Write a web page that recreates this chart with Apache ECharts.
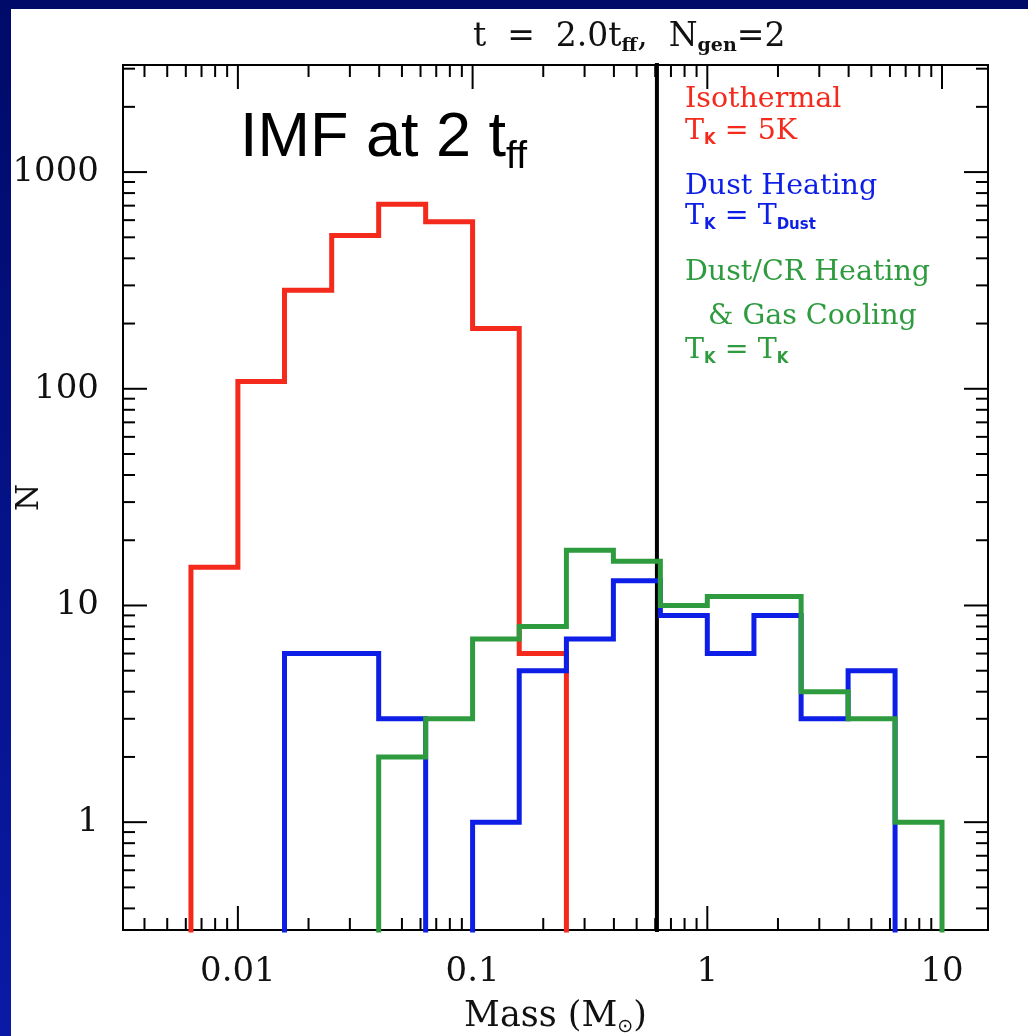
<!DOCTYPE html>
<html><head><meta charset="utf-8">
<script src="https://cdn.jsdelivr.net/npm/echarts@6/dist/echarts.min.js"></script>
<style>
html,body{margin:0;padding:0;width:1028px;height:1036px;overflow:hidden;background:linear-gradient(to bottom,#000a69,#0a1aa6);}
#panel{position:absolute;left:11px;top:9px;right:0;bottom:0;background:#fff;}
#chart{position:absolute;left:0;top:0;width:1028px;height:1036px;}
</style></head><body><div id="panel"></div><div id="chart"></div>
<script>
// ---- data ----
const binEdges = [0.00631, 0.01, 0.0158, 0.0251, 0.0398, 0.0631, 0.1, 0.158, 0.251, 0.398, 0.631, 1, 1.58, 2.51, 3.98, 6.31, 10];
const isothermal    = [15, 108, 285, 510, 710, 590, 190, 6, 0, 0, 0, 0, 0, 0, 0, 0];
const dustHeating   = [0, 0, 6, 6, 3, 0, 1, 5, 7, 13, 9, 6, 9, 3, 5, 0];
const dustCRHeating = [0, 0, 0, 0, 2, 3, 7, 8, 18, 16, 10, 11, 11, 4, 3, 1];
const markerMass = 0.61;
const xTickValues = [0.01, 0.1, 1, 10];
const xTickLabels = ['0.01', '0.1', '1', '10'];
const yTickValues = [1, 10, 100, 1000];
const yTickLabels = ['1', '10', '100', '1000'];
const xRange = [0.00324, 15.7];
const yRange = [0.318, 3120];
const FLOOR = 0.01;

const RED = '#f42a1c', BLUE = '#0d1fe6', GREEN = '#2f9b3f';

function stepPoints(counts) {
  const first = counts.findIndex(v => v > 0);
  let last = counts.length - 1;
  while (last >= 0 && counts[last] <= 0) last--;
  const pts = [[binEdges[first], FLOOR]];
  for (let i = first; i <= last; i++) {
    const v = counts[i] > 0 ? counts[i] : FLOOR;
    pts.push([binEdges[i], v], [binEdges[i + 1], v]);
  }
  pts.push([binEdges[last + 1], FLOOR]);
  return pts;
}

function labelFor(values, labels) {
  return function (v) {
    for (let i = 0; i < values.length; i++) {
      if (Math.abs(Math.log10(v) - Math.log10(values[i])) < 1e-6) return labels[i];
    }
    return '';
  };
}

// tick positions (1..9 x decade) within axis ranges
function logTicks(range) {
  const out = [];
  for (let d = -4; d <= 4; d++) for (let m = 1; m <= 9; m++) {
    const v = m * Math.pow(10, d);
    if (v > range[0] && v < range[1]) out.push([v, m === 1 ? 1 : 0, 1]);
  }
  return out;
}

const chart = echarts.init(document.getElementById('chart'), null, {renderer: 'canvas'});

const sub = (size, pad, bold, fam, color) => ({fontSize: size, lineHeight: size + 1, padding: [pad, 0, 0, 0], fontWeight: bold ? 'bold' : 'normal', fontFamily: fam, color: color});

const LF = 28.5, LH = 32;
function legendTitle(text, x, yc, color) {
  return {
    text: text, left: x, top: yc - LH / 2, padding: 0,
    textStyle: {
      fontFamily: 'DejaVu Serif', fontSize: LF, lineHeight: LH, color: color, fontWeight: 'normal',
      rich: {
        m: {fontFamily: 'DejaVu Serif', fontSize: LF, lineHeight: LH, color: color, fontWeight: 'normal'},
        s: sub(15, 16, true, 'DejaVu Sans', color)
      }
    }
  };
}

const option = {
  backgroundColor: 'transparent',
  animation: false,
  title: [
    {
      text: '{m|t  =  2.0t}{s|ff}{m|,  N}{s|gen}{m|=2}', left: 473, top: 18, padding: 0,
      textStyle: {fontWeight: 'normal', rich: {
        m: {fontFamily: 'DejaVu Serif', fontSize: 33, lineHeight: 38, color: '#111', fontWeight: 'normal'},
        s: sub(19, 18, true, 'DejaVu Serif', '#111')
      }}
    },
    {
      text: '{m|IMF at 2 t}{s|ff}', left: 240, top: 104, padding: 0,
      textStyle: {fontWeight: 'normal', rich: {
        m: {fontFamily: 'Liberation Sans', fontSize: 63, lineHeight: 70, color: '#000', fontWeight: 'normal'},
        s: {fontFamily: 'Liberation Sans', fontSize: 39, lineHeight: 40, padding: [36, 0, 0, 0], color: '#000', fontWeight: 'normal'}
      }}
    },
    legendTitle('{m|Isothermal}', 685, 100, RED),
    legendTitle('{m|T}{s|K}{m| = 5K}', 685, 132, RED),
    legendTitle('{m|Dust Heating}', 685, 187, BLUE),
    legendTitle('{m|T}{s|K}{m| = T}{s|Dust}', 685, 217, BLUE),
    legendTitle('{m|Dust/CR Heating}', 685, 273, GREEN),
    legendTitle('{m|& Gas Cooling}', 708, 317, GREEN),
    legendTitle('{m|T}{s|K}{m| = T}{s|K}', 685, 351, GREEN)
  ],
  grid: {left: 123, top: 65, right: 40, bottom: 106, show: true, borderColor: '#000', borderWidth: 2, backgroundColor: 'transparent', containLabel: false, outerBoundsMode: 'none'},
  xAxis: {
    type: 'log', logBase: 10, min: xRange[0], max: xRange[1],
    name: '{m|Mass (M}{s|⊙}{m|)}', nameLocation: 'middle', nameGap: 67, nameMoveOverlap: false,
    nameTextStyle: {rich: {
      m: {fontFamily: 'DejaVu Serif', fontSize: 35, lineHeight: 40, color: '#111'},
      s: sub(19, 20, false, 'DejaVu Sans', '#111')
    }},
    axisLine: {show: true, lineStyle: {color: '#000', width: 2}},
    axisTick: {show: false}, splitLine: {show: false}, minorTick: {show: false},
    axisLabel: {formatter: labelFor(xTickValues, xTickLabels), margin: 25, fontFamily: 'DejaVu Serif', fontSize: 34, color: '#111', showMinLabel: true, showMaxLabel: true}
  },
  yAxis: {
    type: 'log', logBase: 10, min: yRange[0], max: yRange[1],
    name: 'N', nameLocation: 'middle', nameGap: 78, nameRotate: 90, nameMoveOverlap: false,
    nameTextStyle: {fontFamily: 'DejaVu Serif', fontSize: 31, color: '#111'},
    axisLine: {show: true, lineStyle: {color: '#000', width: 2}},
    axisTick: {show: false}, splitLine: {show: false}, minorTick: {show: false},
    axisLabel: {formatter: labelFor(yTickValues, yTickLabels), margin: 24, fontFamily: 'DejaVu Serif', fontSize: 34, color: '#111'}
  },
  series: [
    {
      type: 'custom', name: 'xticks', data: logTicks(xRange), encode: {x: 0, y: 2}, clip: false, silent: true,
      renderItem: function (params, api) {
        const cs = params.coordSys, v = api.value(0), major = api.value(1);
        const px = api.coord([v, 1])[0], len = major ? 24 : 12;
        const st = {stroke: '#000', lineWidth: 2};
        return {type: 'group', children: [
          {type: 'line', shape: {x1: px, y1: cs.y + cs.height, x2: px, y2: cs.y + cs.height - len}, style: st},
          {type: 'line', shape: {x1: px, y1: cs.y, x2: px, y2: cs.y + len}, style: st}
        ]};
      }
    },
    {
      type: 'custom', name: 'yticks', data: logTicks(yRange).map(d => [1, d[0], d[1]]), encode: {x: 0, y: 1}, clip: false, silent: true,
      renderItem: function (params, api) {
        const cs = params.coordSys, v = api.value(1), major = api.value(2);
        const py = api.coord([1, v])[1], len = major ? 24 : 12;
        const st = {stroke: '#000', lineWidth: 2};
        return {type: 'group', children: [
          {type: 'line', shape: {x1: cs.x, y1: py, x2: cs.x + len, y2: py}, style: st},
          {type: 'line', shape: {x1: cs.x + cs.width, y1: py, x2: cs.x + cs.width - len, y2: py}, style: st}
        ]};
      }
    },
    {type: 'line', name: 'marker', data: [[markerMass, FLOOR], [markerMass, 1e5]], symbol: 'none', clip: true, lineStyle: {color: '#000', width: 4}},
    {type: 'line', name: 'Isothermal', data: stepPoints(isothermal), symbol: 'none', clip: true, lineStyle: {color: RED, width: 5, join: 'miter'}},
    {type: 'line', name: 'Dust Heating', data: stepPoints(dustHeating), symbol: 'none', clip: true, lineStyle: {color: BLUE, width: 5, join: 'miter'}},
    {type: 'line', name: 'Dust/CR Heating', data: stepPoints(dustCRHeating), symbol: 'none', clip: true, lineStyle: {color: GREEN, width: 5, join: 'miter'}}
  ]
};
chart.setOption(option);
</script></body></html>
